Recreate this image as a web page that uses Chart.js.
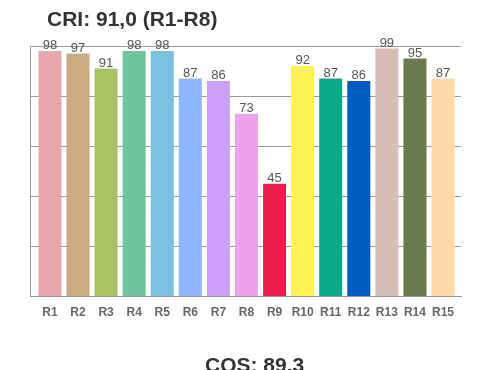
<!DOCTYPE html>
<html>
<head>
<meta charset="utf-8">
<script src="https://cdn.jsdelivr.net/npm/chart.js@4"></script>
<style>
    body { margin: 0; background: #fff; font-family: "Liberation Sans", Arial, sans-serif; }
    #caixa { position: relative; width: 500px; height: 370px; overflow: hidden; }
    #tituloCri { position: absolute; left: 47px; top: 7px; font-size: 21px; font-weight: bold; color: #333; }
    #tituloCqs { position: absolute; left: 205px; top: 353px; font-size: 21px; font-weight: bold; color: #333; }
</style>
</head>
<body>
<div id="caixa">
    <canvas id="graficoCri" width="500" height="370"></canvas>
    <div id="tituloCri">CRI: 91,0 (R1-R8)</div>
    <div id="tituloCqs">CQS: 89.3</div>
</div>
<script>
let indices = ["R1", "R2", "R3", "R4", "R5", "R6", "R7", "R8", "R9", "R10", "R11", "R12", "R13", "R14", "R15"];
let valores = [98, 97, 91, 98, 98, 87, 86, 73, 45, 92, 87, 86, 99, 95, 87];
let cores = ["#e8a6ae", "#caab80", "#a9c160", "#6dc6a0", "#7ac0df", "#8fb5fd", "#cda0f9", "#eea2ec", "#ee1e4a",
    "#fff250", "#0aab86", "#005bc1", "#d5beb8", "#6a7a4c", "#ffdaa8"];

// escreve o valor em cima de cada barra
const rotulos = {
    id: "rotulos",
    afterDatasetsDraw(chart) {
        let ctx = chart.ctx;
        ctx.save();
        ctx.font = "13px 'Liberation Sans', Arial, sans-serif";
        ctx.fillStyle = "#555";
        ctx.textAlign = "center";
        ctx.textBaseline = "bottom";
        chart.getDatasetMeta(0).data.forEach((barra, i) => {
            ctx.fillText(valores[i], barra.x, barra.y + 1);
        });
        ctx.restore();
    }
};

// eixo x linear para deixar uma pequena folga entre o eixo e a primeira barra
new Chart(document.getElementById("graficoCri"), {
    type: "bar",
    data: {
        datasets: [{
            data: valores.map((v, i) => ({ x: i, y: v })),
            backgroundColor: cores,
            barPercentage: 0.82,
            categoryPercentage: 1.0
        }]
    },
    options: {
        responsive: false,
        animation: false,
        layout: { padding: { left: 30, right: 39, top: 46, bottom: 49 } },
        plugins: { legend: { display: false }, tooltip: { enabled: false } },
        scales: {
            x: {
                type: "linear",
                offset: false,
                min: -0.71,
                max: 14.64,
                grid: { display: false },
                border: { color: "#999" },
                ticks: {
                    stepSize: 1,
                    includeBounds: false,
                    autoSkip: false,
                    maxRotation: 0,
                    callback: v => indices[v],
                    color: "#666",
                    font: { size: 12, weight: "bold", family: "'Liberation Sans', Arial" },
                    padding: 1
                }
            },
            y: {
                min: 0,
                max: 100,
                ticks: { display: false, stepSize: 20 },
                grid: { color: "#999", drawTicks: false },
                border: { color: "#999" }
            }
        }
    },
    plugins: [rotulos]
});
</script>
</body>
</html>
